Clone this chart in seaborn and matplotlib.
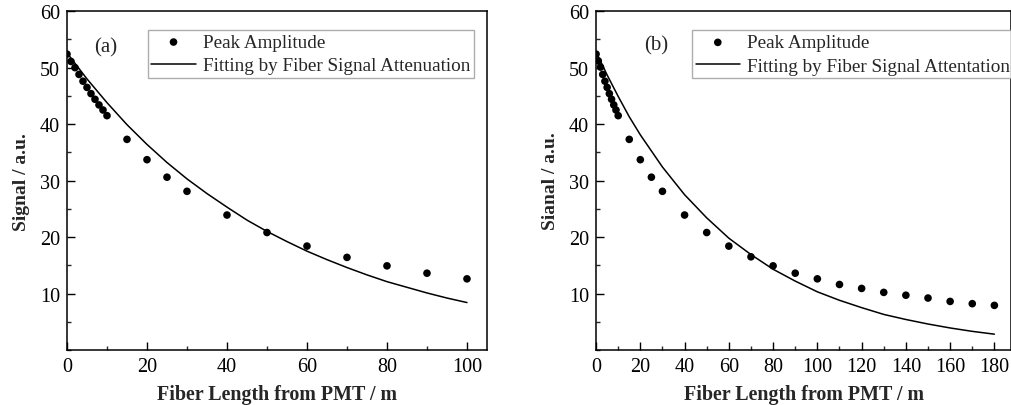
import numpy as np
import pandas as pd
import matplotlib
matplotlib.use("Agg")
import matplotlib.pyplot as plt
import seaborn as sns
from matplotlib.ticker import MultipleLocator

# ---- data ----
len_a = [0, 1, 2, 3, 4, 5, 6, 7, 8, 9, 10, 15, 20, 25, 30, 40, 50, 60, 70, 80, 90, 100]
amp_a = [52.4, 51.1, 50.0, 48.8, 47.6, 46.5, 45.4, 44.4, 43.4, 42.5, 41.5,
         37.3, 33.7, 30.6, 28.1, 23.9, 20.8, 18.4, 16.4, 14.9, 13.6, 12.6]
fit_len_a = [0, 5, 10, 15, 20, 25, 30, 35, 40, 45, 50, 55, 60, 65, 70, 75, 80, 85, 90, 95, 100]
fit_a = [52.6, 48.0, 43.8, 39.9, 36.4, 33.2, 30.3, 27.7, 25.3, 23.0, 21.0,
         19.2, 17.5, 16.0, 14.6, 13.3, 12.1, 11.1, 10.1, 9.2, 8.4]

len_b = [0, 1, 2, 3, 4, 5, 6, 7, 8, 9, 10, 15, 20, 25, 30, 40, 50, 60, 70, 80, 90,
         100, 110, 120, 130, 140, 150, 160, 170, 180]
amp_b = [52.4, 51.2, 50.1, 48.8, 47.6, 46.5, 45.4, 44.4, 43.4, 42.5, 41.5,
         37.3, 33.7, 30.6, 28.1, 23.9, 20.8, 18.4, 16.5, 14.9, 13.6,
         12.6, 11.6, 10.9, 10.2, 9.7, 9.2, 8.6, 8.2, 7.9]
fit_len_b = [0, 5, 10, 15, 20, 30, 40, 50, 60, 70, 80, 90, 100, 110, 120, 130, 140, 150, 160, 170, 180]
fit_b = [52.8, 48.7, 44.9, 41.3, 38.1, 32.4, 27.5, 23.4, 19.8, 16.9, 14.3, 12.2,
         10.3, 8.8, 7.5, 6.3, 5.4, 4.6, 3.9, 3.3, 2.8]

panels = [
    dict(x=len_a, y=amp_a, fx=fit_len_a, fy=fit_a, tag="(a)", ylabel="Signal / a.u.",
         fitlabel="Fitting by Fiber Signal Attenuation", xmax=105, xmaj=20, xmin=10,
         tagpos=(0.093, 0.895), leg=(0.192, 0.945)),
    dict(x=len_b, y=amp_b, fx=fit_len_b, fy=fit_b, tag="(b)", ylabel="Sianal / a.u.",
         fitlabel="Fitting by Fiber Signal Attentation", xmax=187.5, xmaj=20, xmin=10,
         tagpos=(0.145, 0.9), leg=(0.231, 0.944)),
]

sns.set_theme(style="white")
plt.rcParams['font.family'] = ['Liberation Serif', 'DejaVu Serif']

fig = plt.figure(figsize=(10.12, 4.06), dpi=100)
axes = [fig.add_axes([0.0662, 0.1355, 0.4150, 0.8345]),
        fig.add_axes([0.5890, 0.1355, 0.4100, 0.8345])]

for ax, p in zip(axes, panels):
    dpts = pd.DataFrame({"len": p["x"], "amp": p["y"]})
    dfit = pd.DataFrame({"len": p["fx"], "amp": p["fy"]})
    sns.scatterplot(data=dpts, x="len", y="amp", ax=ax, color="black", s=30,
                    edgecolor="none", label="Peak Amplitude", zorder=3)
    sns.lineplot(data=dfit, x="len", y="amp", ax=ax, color="black", linewidth=1.1,
                 label=p["fitlabel"], zorder=2)
    ax.set_xlim(0, p["xmax"])
    ax.set_ylim(0, 60)
    ax.set_yticks([10, 20, 30, 40, 50, 60])
    ax.yaxis.set_minor_locator(MultipleLocator(5))
    ax.xaxis.set_major_locator(MultipleLocator(p["xmaj"]))
    ax.xaxis.set_minor_locator(MultipleLocator(p["xmin"]))
    ax.tick_params(axis="both", which="major", direction="in", length=6, width=1,
                   labelsize=14.5, colors="black", top=False, right=False,
                   bottom=True, left=True, pad=5)
    ax.tick_params(axis="both", which="minor", direction="in", length=3, width=1,
                   top=False, right=False, bottom=True, left=True)
    for s in ax.spines.values():
        s.set_color("black")
        s.set_linewidth(1.1)
    ax.set_xlabel("Fiber Length from PMT / m", fontsize=14.4, fontweight="bold", labelpad=6)
    ax.set_ylabel(p["ylabel"], fontsize=14, fontweight="bold", labelpad=7)
    ax.text(p["tagpos"][0], p["tagpos"][1], p["tag"], transform=ax.transAxes, fontsize=15,
            ha="center", va="center")
    leg = ax.legend(loc="upper left", bbox_to_anchor=p["leg"], fontsize=13.8,
                    frameon=True, fancybox=False, edgecolor="#999999",
                    handlelength=2.3, handletextpad=0.4, borderpad=0.2,
                    labelspacing=0.3, borderaxespad=0)
    leg.get_frame().set_linewidth(1.0)

fig.savefig("out.png", dpi=100, facecolor="white")
